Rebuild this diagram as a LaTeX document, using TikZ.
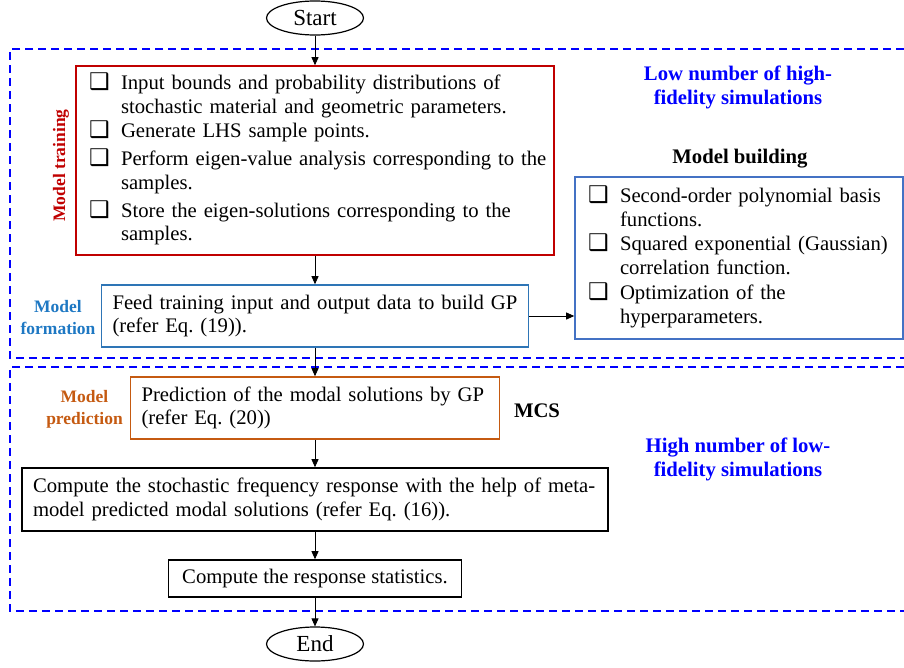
\documentclass[tikz,border=0pt]{standalone}
\usepackage{fontspec}
\setmainfont{Liberation Serif}
\newfontfamily\symf{DejaVu Sans}
\usetikzlibrary{arrows.meta,shapes.geometric}
\frenchspacing
\definecolor{dblue}{RGB}{0,0,255}
\definecolor{tred}{RGB}{192,0,0}
\definecolor{fblue}{RGB}{46,117,182}
\definecolor{flabel}{RGB}{30,120,195}
\definecolor{bblue}{RGB}{68,114,196}
\definecolor{porange}{RGB}{197,90,17}
\newcommand\qb{{\symf\fontsize{23}{23}\selectfont ❑}}
\newcommand\bodyfont{\fontsize{20.7}{23.5}\selectfont}
\tikzset{
  box/.style={draw, line width=1.6pt, inner ysep=0pt, font=\bodyfont},
  lbl/.style={font=\bfseries\fontsize{17.5}{22}\selectfont, align=center},
  hdr/.style={font=\bfseries\fontsize{20.7}{24}\selectfont, align=center},
  term/.style={draw, ellipse, line width=1.2pt, minimum width=97pt, minimum height=34pt, inner sep=0pt, font=\fontsize{23}{23}\selectfont},
  arr/.style={-{Triangle[length=8pt,width=7pt]}, line width=0.8pt},
  zone/.style={dblue, line width=2pt, dash pattern=on 8pt off 5pt}
}
\begin{document}
\begin{tikzpicture}[x=1pt,y=-1pt]
\useasboundingbox (0,0) rectangle (904,667);
% zones
\draw[zone] (904,49) -- (10,49) -- (10,358) -- (904,358);
\draw[zone] (904,367) -- (10,367) -- (10,611) -- (904,611);
% terminals
\node[term] (start) at (315,18) {Start};
\node[term] (end) at (315,644) {End};
% red box
\node[box, draw=tred, minimum width=478pt, minimum height=189pt, text width=452pt, inner xsep=11pt, align=left] (train) at (315,160.5) {%
\begin{tabular}{@{}p{32pt}@{}l@{}}
\qb & Input bounds and probability distributions of\\
 & stochastic material and geometric parameters.\\
\qb & Generate LHS sample points.\\[4.5pt]
\qb & Perform eigen-value analysis corresponding to the\\
 & samples.\\[4.5pt]
\qb & Store the eigen-solutions corresponding to the\\
 & samples.
\end{tabular}};
% formation box
\node[box, draw=fblue, minimum width=427pt, minimum height=62pt, text width=405pt, inner xsep=11pt, align=left] (form) at (315,316) {Feed training input and output data to build GP\\(refer Eq. (19)).};
% model building
\node[box, draw=bblue, minimum width=328pt, minimum height=162pt, text width=302pt, inner xsep=11pt, align=left] (build) at (739,258) {%
\begin{tabular}{@{}p{32pt}@{}l@{}}
\qb & Second-order polynomial basis\\
 & functions.\\[1pt]
\qb & Squared exponential (Gaussian)\\
 & correlation function.\\[1.5pt]
\qb & Optimization of the\\
 & hyperparameters.
\end{tabular}};
% prediction
\node[box, draw=porange, minimum width=369pt, minimum height=62pt, text width=347pt, inner xsep=11pt, align=left] (pred) at (315,408) {Prediction of the modal solutions by GP\\(refer Eq. (20))};
% compute
\node[box, draw=black, minimum width=586pt, minimum height=63pt, text width=564pt, inner xsep=11pt, align=left] (comp) at (315,499.5) {Compute the stochastic frequency response with the help of meta-\\model predicted modal solutions (refer Eq. (16)).};
% statistics
\node[box, draw=black, minimum width=293pt, minimum height=37pt, inner xsep=0pt] (stat) at (315,578.5) {Compute the response statistics.};
% labels
\node[lbl, tred, rotate=90] (ltrain) at (61,165.5) {Model training};
\node[lbl, flabel] (lform) at (58,318) {Model\\formation};
\node[lbl, porange] (lpred) at (84.5,409) {Model\\prediction};
\node[hdr] (lbuild) at (740,159) {Model building};
\node[hdr] (lmcs) at (537,411) {MCS};
\node[hdr, dblue] (lhigh) at (738,87) {Low number of high-\\fidelity simulations};
\node[hdr, dblue] (llow) at (738,459.5) {High number of low-\\fidelity simulations};
% connectors
\draw[arr] (start) -- (train);
\draw[arr] (train) -- (form);
\draw[arr] (form) -- (pred);
\draw[arr] (pred) -- (comp);
\draw[arr] (comp) -- (stat);
\draw[arr] (stat) -- (end);
\draw[arr] (form.east) -- (form.east -| build.west);
\end{tikzpicture}
\end{document}
